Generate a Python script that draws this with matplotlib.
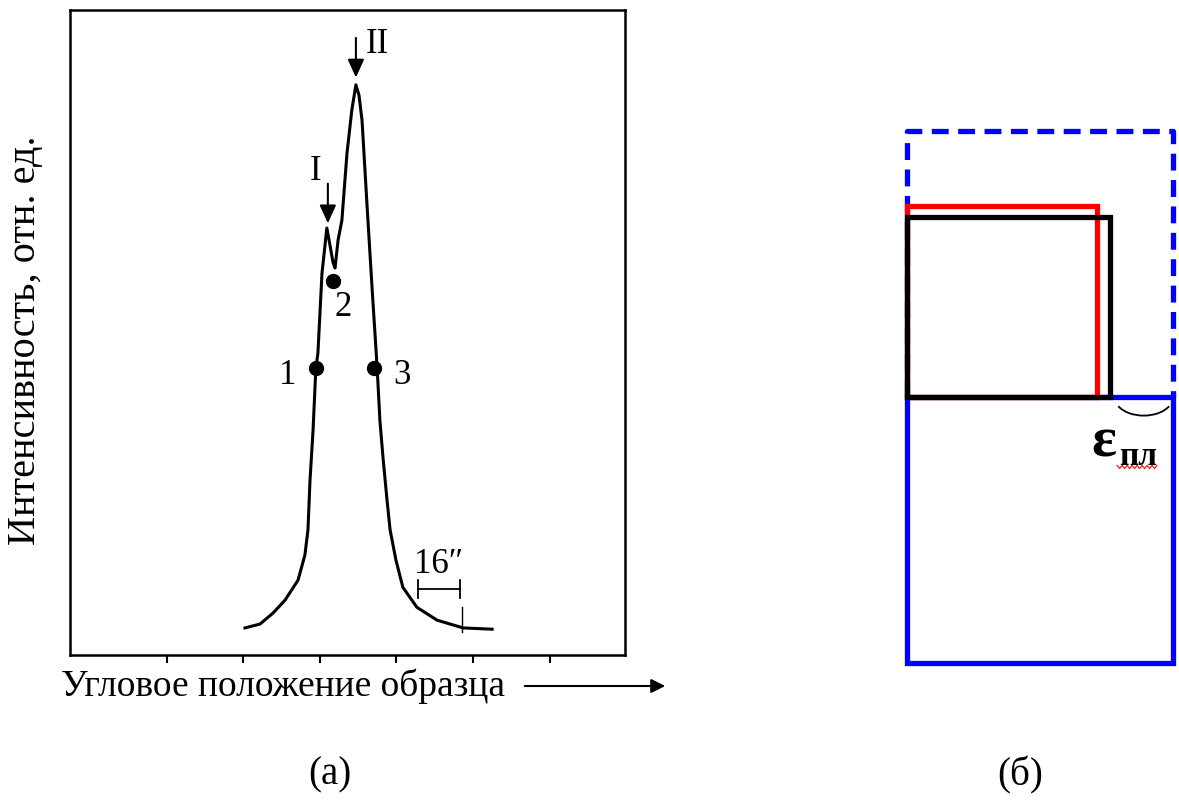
import numpy as np
import matplotlib.pyplot as plt
from matplotlib.patches import Rectangle, Arc, FancyArrowPatch

plt.rcParams['font.family'] = ['Liberation Serif', 'DejaVu Serif']

# rocking curve, angle in arcsec, intensity in rel. units
angle = [-29.4, -23.5, -18.4, -13.7, -8.6, -5.9, -4.7, -3.9, -2.7, -1.6, -0.8, 0.8,
         2.7, 3.9, 5.1, 5.9, 7.1, 8.6, 10.6, 12.5, 14.1, 15.3, 16.5, 18.4, 20.4,
         22.4, 23.5, 24.7, 26.3, 27.5, 29.8, 32.5, 38.0, 45.9, 56.1, 67.5]
intensity = [0.042, 0.048, 0.065, 0.085, 0.116, 0.155, 0.194, 0.271, 0.349, 0.445,
             0.468, 0.592, 0.662, 0.636, 0.609, 0.600, 0.643, 0.674, 0.778, 0.845,
             0.884, 0.868, 0.829, 0.701, 0.571, 0.447, 0.364, 0.307, 0.240, 0.194,
             0.147, 0.105, 0.074, 0.054, 0.042, 0.040]

# marked points 1, 2, 3
pt_labels = ['1', '2', '3']
pt_x = [-1.6, 5.1, 21.2]
pt_y = [0.445, 0.58, 0.445]
pt_lab_x = [-12.5, 9.0, 32.2]
pt_lab_y = [0.434, 0.538, 0.434]

# peaks I and II
peak_labels = ['I', 'II']
peak_x = [3.1, 14.1]
peak_y = [0.665, 0.891]
peak_len = 0.07

ticks = [-60, -30, 0, 30, 60, 90]
scale_bar = (38.4, 54.9)  # 16 arcsec

# schematic (б): x, y, width, height in substrate-side units
substrate = (0, 0, 1, 1)
relaxed = (0, 1, 1, 1)
film_red = (0, 1, 0.714, 0.718)
film_black = (0, 1, 0.763, 0.677)

fig = plt.figure(figsize=(11.79, 8.05), dpi=100)

# ---- (а) ----
ax = fig.add_axes([70 / 1179, 150 / 805, 555 / 1179, 645 / 805])
ax.plot(angle, intensity, color='black', lw=2.2)
ax.plot(pt_x, pt_y, 'o', color='black', ms=10)
for t, x, y in zip(pt_labels, pt_lab_x, pt_lab_y):
    ax.text(x, y, t, fontsize=25, ha='center', va='center')
for t, x, y in zip(peak_labels, peak_x, peak_y):
    ax.annotate('', xy=(x, y), xytext=(x, y + peak_len),
                arrowprops=dict(arrowstyle='-|>,head_length=1.1,head_width=0.5',
                                color='black', lw=1.5))
ax.text(peak_x[0] - 5.0, peak_y[0] + 0.085, peak_labels[0], fontsize=25,
        ha='center', va='center')
ax.text(peak_x[1] + 8.6, peak_y[1] + 0.055, peak_labels[1], fontsize=25,
        ha='center', va='center')

# 16'' scale bar
ax.plot(scale_bar, [0.102, 0.102], color='black', lw=1.3)
for xb in scale_bar:
    ax.plot([xb, xb], [0.088, 0.116], color='black', lw=1.3)
ax.plot([55.7, 55.7], [0.036, 0.074], color='black', lw=1.0)
ax.text(sum(scale_bar) / 2, 0.14, '16″', fontsize=25, ha='center', va='center')

ax.set_xlim(-98.0, 119.6)
ax.set_ylim(0, 1)
ax.set_xticks(ticks)
ax.set_xticklabels([])
ax.set_yticks([])
ax.tick_params(axis='x', direction='out', length=6, width=1.5)
for s in ax.spines.values():
    s.set_linewidth(1.8)

fig.text(26 / 1179, 1 - 340 / 805, 'Интенсивность, отн. ед.', rotation=90,
         fontsize=29, ha='center', va='center')
fig.text(61 / 1179, 1 - 686 / 805, 'Угловое положение образца', fontsize=27,
         ha='left', va='center')
fig.patches.append(FancyArrowPatch(
    (522 / 1179, 1 - 686 / 805), (668 / 1179, 1 - 686 / 805),
    transform=fig.transFigure, arrowstyle='-|>,head_length=7,head_width=3.5',
    color='black', lw=1.5, mutation_scale=1.2))

fig.text(330 / 1179, 1 - 775 / 805, '(а)', fontsize=28, ha='center', va='center')
fig.text(1020 / 1179, 1 - 775 / 805, '(б)', fontsize=28, ha='center', va='center')

# ---- (б) ----
bx = fig.add_axes([880 / 1179, 115 / 805, 299 / 1179, 590 / 805])
bx.set_xlim(-0.1015, 1.0226)
bx.set_ylim(-0.1015, 2.1165)
bx.axis('off')

lw = 3.8
x0, y0, w, h = relaxed
bx.plot([x0, x0, x0 + w, x0 + w], [y0, y0 + h, y0 + h, y0], color='#0000ff',
        lw=lw, ls=(0, (3.2, 1.8)), zorder=0.5)
bx.add_patch(Rectangle(substrate[:2], *substrate[2:], fill=False, ec='#0000ff',
                       lw=lw, joinstyle='miter', zorder=1))
bx.add_patch(Rectangle(film_red[:2], *film_red[2:], fill=False, ec='#ff0000',
                       lw=lw, joinstyle='miter', zorder=2))
bx.add_patch(Rectangle(film_black[:2], *film_black[2:], fill=False, ec='black',
                       lw=lw, joinstyle='miter', zorder=3))
bx.add_patch(Arc((0.89, 1.0), 0.22, 0.14, theta1=200, theta2=340, color='black', lw=1.3))
bx.text(0.740, 0.83, 'ε', fontsize=42, fontweight='bold', ha='center', va='center')
bx.text(0.870, 0.775, 'пл', fontsize=24, fontweight='bold', ha='center', va='center')
wx = np.linspace(0.79, 0.94, 17)
bx.plot(wx, 0.737 + 0.006 * (-1) ** np.arange(17), color='red', lw=0.8)

fig.savefig('out.png', dpi=100, facecolor='white')
